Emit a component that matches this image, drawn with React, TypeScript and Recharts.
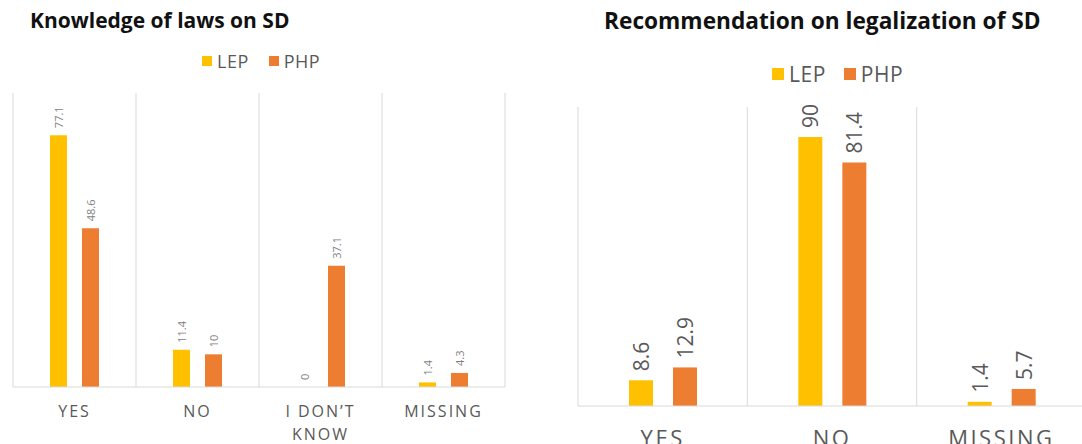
import { BarChart, Bar, XAxis, YAxis, CartesianGrid, LabelList } from 'recharts';

const leftCategories = ['YES', 'NO', 'I DON\u2019T KNOW', 'MISSING'];
const leftLep = [77.1, 11.4, 0, 1.4];
const leftPhp = [48.6, 10, 37.1, 4.3];

const rightCategories = ['YES', 'NO', 'MISSING'];
const rightLep = [8.6, 90, 1.4];
const rightPhp = [12.9, 81.4, 5.7];

const seriesNames = ['LEP', 'PHP'];

const LEP_COLOR = '#FFC000';
const PHP_COLOR = '#ED7D31';
const TEXT = '#595959';
const GRID = '#d9d9d9';
const FONT = "'Open Sans', 'Noto Sans', sans-serif";

const leftData = leftCategories.map((name, i) => ({ name, LEP: leftLep[i], PHP: leftPhp[i] }));
const rightData = rightCategories.map((name, i) => ({ name, LEP: rightLep[i], PHP: rightPhp[i] }));

function wrapWords(label: string, maxChars: number) {
  const lines: string[] = [];
  let cur = '';
  label.split(' ').forEach((w) => {
    const next = cur ? cur + ' ' + w : w;
    if (next.length > maxChars && cur) {
      lines.push(cur);
      cur = w;
    } else {
      cur = next;
    }
  });
  if (cur) lines.push(cur);
  return lines;
}

function makeTick(fontSize: number, dy: number, lineHeight: number, spacing: number) {
  return (props: any) => {
    const { x, y, payload } = props;
    const lines = wrapWords(String(payload.value), 8);
    return (
      <text
        x={x}
        y={y + dy}
        textAnchor="middle"
        fill={TEXT}
        fontSize={fontSize}
        fontFamily={FONT}
        letterSpacing={spacing}
      >
        {lines.map((l, i) => (
          <tspan key={i} x={x} dy={i === 0 ? 0 : lineHeight}>
            {l}
          </tspan>
        ))}
      </text>
    );
  };
}

function makeLabel(fontSize: number, gap: number, color: string) {
  return (props: any) => {
    const x = Number(props.x);
    const y = Number(props.y);
    const w = Number(props.width);
    const cx = x + w / 2;
    const ty = y - gap;
    return (
      <text
        x={cx}
        y={ty}
        transform={`rotate(-90 ${cx} ${ty})`}
        textAnchor="start"
        dominantBaseline="central"
        fill={color}
        fontSize={fontSize}
        fontFamily={FONT}
      >
        {String(props.value)}
      </text>
    );
  };
}

const dividers = (n: number) => (args: any) => {
  const { offset } = args;
  return Array.from({ length: n + 1 }, (_, i) => offset.left + (i * offset.width) / n);
};

function LegendRow({ left, top, fontSize, box, gap }: { left: number; top: number; fontSize: number; box: number; gap: number }) {
  const colors = [LEP_COLOR, PHP_COLOR];
  return (
    <div
      style={{
        position: 'absolute',
        left,
        top,
        display: 'flex',
        alignItems: 'center',
        fontFamily: FONT,
        fontSize,
        color: TEXT,
        whiteSpace: 'nowrap',
        letterSpacing: 0.5,
      }}
    >
      {seriesNames.map((s, i) => (
        <div key={s} style={{ display: 'flex', alignItems: 'center', marginRight: i === 0 ? gap : 0 }}>
          <span style={{ width: box, height: box, background: colors[i], display: 'inline-block', marginRight: 5 }} />
          <span>{s}</span>
        </div>
      ))}
    </div>
  );
}

export default function App() {
  return (
    <div
      style={{
        position: 'absolute',
        left: 0,
        top: 0,
        width: 1082,
        height: 444,
        overflow: 'hidden',
        background: '#fff',
      }}
    >
      <div
        style={{
          position: 'absolute',
          left: 30,
          top: 6,
          fontFamily: FONT,
          fontWeight: 700,
          fontSize: 21,
          color: '#111',
          whiteSpace: 'nowrap',
        }}
      >
        Knowledge of laws on SD
      </div>
      <LegendRow left={202} top={49} fontSize={18} box={10} gap={20} />

      <div style={{ position: 'absolute', left: 0, top: 0 }}>
        <BarChart
          width={550}
          height={444}
          data={leftData}
          margin={{ top: 93, right: 45, bottom: 7, left: 13 }}
          barSize={17}
          barGap={15}
        >
          <CartesianGrid horizontal={false} stroke={GRID} verticalCoordinatesGenerator={dividers(leftCategories.length)} />
          <XAxis
            dataKey="name"
            height={50}
            tickSize={0}
            tickMargin={0}
            axisLine={{ stroke: GRID }}
            tickLine={false}
            interval={0}
            tick={makeTick(16, 30, 23, 2)}
          />
          <YAxis hide domain={[0, 90]} />
          <Bar dataKey="LEP" fill={LEP_COLOR} minPointSize={0.01} isAnimationActive={false}>
            <LabelList dataKey="LEP" content={makeLabel(11, 7, '#7f7f7f')} />
          </Bar>
          <Bar dataKey="PHP" fill={PHP_COLOR} minPointSize={0.01} isAnimationActive={false}>
            <LabelList dataKey="PHP" content={makeLabel(11, 7, '#7f7f7f')} />
          </Bar>
        </BarChart>
      </div>

      <div
        style={{
          position: 'absolute',
          left: 604,
          top: 5,
          fontFamily: FONT,
          fontWeight: 700,
          fontSize: 22.7,
          color: '#111',
          whiteSpace: 'nowrap',
        }}
      >
        Recommendation on legalization of SD
      </div>
      <LegendRow left={772} top={60} fontSize={21} box={12} gap={18} />

      <div style={{ position: 'absolute', left: 560, top: 0 }}>
        <BarChart
          width={540}
          height={444}
          data={rightData}
          margin={{ top: 107, right: 14, bottom: 2, left: 18 }}
          barSize={24}
          barGap={20}
        >
          <CartesianGrid horizontal={false} stroke={GRID} verticalCoordinatesGenerator={dividers(rightCategories.length)} />
          <XAxis
            dataKey="name"
            height={36}
            tickSize={0}
            tickMargin={0}
            axisLine={{ stroke: GRID }}
            tickLine={false}
            interval={0}
            tick={makeTick(22, 40, 26, 2.5)}
          />
          <YAxis hide domain={[0, 100]} />
          <Bar dataKey="LEP" fill={LEP_COLOR} isAnimationActive={false}>
            <LabelList dataKey="LEP" content={makeLabel(21, 9, TEXT)} />
          </Bar>
          <Bar dataKey="PHP" fill={PHP_COLOR} isAnimationActive={false}>
            <LabelList dataKey="PHP" content={makeLabel(21, 9, TEXT)} />
          </Bar>
        </BarChart>
      </div>
    </div>
  );
}
